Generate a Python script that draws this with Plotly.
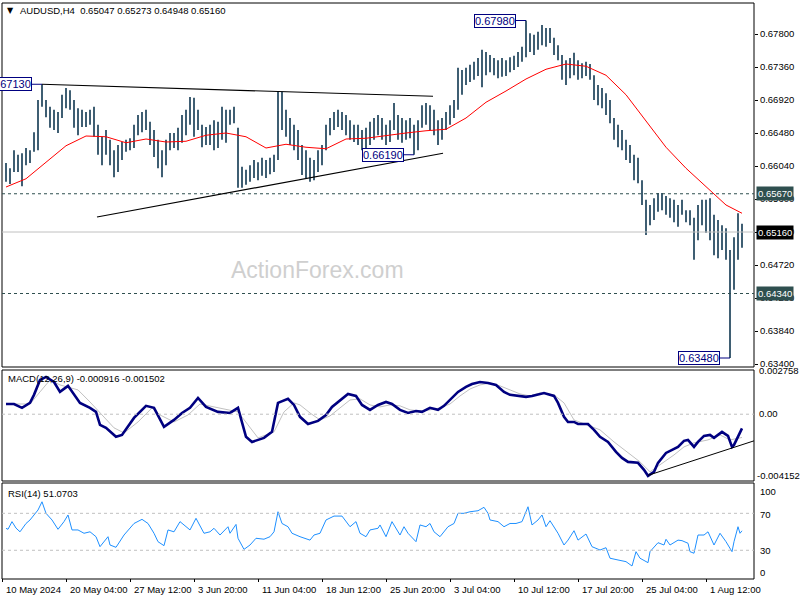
import plotly.graph_objects as go

SYMBOL = "AUDUSD,H4"
LAST_OHLC = ["0.65047", "0.65273", "0.64948", "0.65160"]
MACD_LABEL = "MACD(12,26,9) -0.000916 -0.001502"
RSI_LABEL = "RSI(14) 51.0703"
WATERMARK = "ActionForex.com"

# H4 bars (every second bar drawn): highs / lows in pips (x 1e-4)
bar_high = [6608, 6601, 6625, 6619, 6621, 6628, 6625, 6649, 6692, 6713,
            6692, 6683, 6679, 6676, 6699, 6708, 6705, 6692, 6681, 6679,
            6676, 6679, 6683, 6659, 6643, 6652, 6639, 6625, 6632, 6636,
            6639, 6641, 6659, 6672, 6676, 6679, 6663, 6652, 6639, 6625,
            6639, 6648, 6648, 6655, 6672, 6679, 6696, 6695, 6679, 6659,
            6656, 6659, 6665, 6663, 6683, 6679, 6679, 6683, 6655, 6603,
            6599, 6605, 6612, 6609, 6615, 6612, 6615, 6619, 6703, 6703,
            6679, 6668, 6659, 6652, 6632, 6625, 6615, 6612, 6625, 6632,
            6659, 6668, 6676, 6679, 6676, 6672, 6665, 6659, 6659, 6652,
            6655, 6663, 6668, 6672, 6668, 6659, 6665, 6688, 6672, 6668,
            6665, 6668, 6659, 6665, 6685, 6688, 6685, 6679, 6665, 6668,
            6676, 6685, 6692, 6735, 6732, 6735, 6739, 6743, 6748, 6759,
            6756, 6752, 6748, 6745, 6748, 6745, 6749, 6751, 6756, 6763,
            6798, 6781, 6779, 6783, 6792, 6788, 6788, 6775, 6765, 6752,
            6745, 6748, 6755, 6745, 6741, 6743, 6740, 6725, 6712, 6708,
            6701, 6692, 6668, 6659, 6652, 6639, 6632, 6619, 6615, 6585,
            6559, 6552, 6561, 6568, 6568, 6564, 6561, 6559, 6552, 6559,
            6545, 6545, 6535, 6552, 6559, 6559, 6561, 6539, 6532, 6525,
            6521, 6492, 6509, 6541, 6527]
bar_low = [6583, 6580, 6596, 6596, 6577, 6605, 6608, 6623, 6625, 6683,
           6669, 6655, 6652, 6648, 6668, 6681, 6679, 6655, 6645, 6656,
           6656, 6659, 6643, 6619, 6605, 6619, 6605, 6589, 6596, 6612,
           6623, 6625, 6628, 6645, 6649, 6652, 6632, 6616, 6601, 6589,
           6605, 6625, 6628, 6625, 6635, 6645, 6659, 6643, 6652, 6629,
           6632, 6632, 6625, 6628, 6639, 6635, 6659, 6661, 6575, 6575,
           6579, 6583, 6588, 6585, 6591, 6588, 6593, 6596, 6612, 6652,
           6643, 6632, 6625, 6612, 6592, 6588, 6583, 6585, 6596, 6605,
           6625, 6645, 6652, 6656, 6652, 6645, 6639, 6636, 6632, 6625,
           6623, 6632, 6639, 6645, 6639, 6632, 6636, 6652, 6639, 6635,
           6639, 6641, 6619, 6625, 6655, 6659, 6652, 6645, 6632, 6639,
           6652, 6659, 6668, 6679, 6699, 6712, 6716, 6719, 6724, 6709,
           6725, 6729, 6725, 6721, 6723, 6724, 6729, 6732, 6736, 6743,
           6749, 6756, 6752, 6759, 6765, 6763, 6768, 6752, 6745, 6719,
           6712, 6721, 6725, 6719, 6721, 6724, 6719, 6692, 6685, 6681,
           6672, 6661, 6639, 6629, 6625, 6612, 6608, 6585, 6581, 6552,
           6512, 6525, 6532, 6543, 6545, 6539, 6535, 6529, 6523, 6539,
           6529, 6525, 6479, 6505, 6525, 6515, 6505, 6485, 6481, 6492,
           6479, 6348, 6439, 6479, 6495]

# moving average (time in H4 bars, value in pips)
ma_t = [0, 10, 20, 30, 40, 50, 60, 70, 80, 90, 100, 110, 120, 130, 140, 150, 160, 170, 180,
        190, 200, 210, 220, 230, 240, 250, 260, 270, 280, 290, 300, 310, 320, 330, 340, 350, 360, 368]
ma_val = [6576, 6587, 6609, 6631, 6644, 6643, 6635, 6640, 6636, 6637, 6645, 6648, 6643, 6628,
          6633, 6629, 6627, 6640, 6641, 6645, 6648, 6651, 6653, 6668, 6689, 6704, 6720, 6733,
          6740, 6737, 6725, 6699, 6664, 6629, 6601, 6576, 6552, 6541]

# MACD main / signal (x 1e-4)
macd_t = [0, 4, 8, 12, 14, 17, 20, 24, 27, 31, 37, 42, 45, 47, 50, 55, 58, 64, 70, 74, 79, 84,
          88, 92, 96, 100, 106, 112, 116, 120, 123, 129, 133, 136, 141, 144, 147, 151, 156, 160,
          163, 167, 171, 175, 178, 182, 186, 190, 193, 197, 201, 205, 208, 212, 216, 219, 222,
          226, 230, 233, 237, 241, 245, 249, 252, 256, 260, 263, 267, 269, 274, 276, 279, 281,
          284, 286, 291, 294, 297, 301, 305, 308, 311, 316, 319, 321, 324, 326, 330, 333, 336,
          339, 341, 344, 346, 349, 352, 354, 358, 361, 363, 364, 366, 368]
macd_val = [6.6, 6.6, 4.1, 7.3, 12.5, 22.1, 24.1, 20.8, 14.4, 18.3, 7.3, 4.1, 1.5, -6.9, -8.8,
            -14.6, -13.4, -2.4, 5.4, 4.1, -8.2, -3.7, 0.8, 4.1, 10.5, 4.7, 1.5, 0.8, 4.1, -14.6,
            -17.9, -15.3, -11.4, 7.3, 9.9, 6.0, -1.7, -6.3, -4.3, -0.5, 4.7, 9.2, 13.1, 11.8, 6.0,
            2.8, 6.0, 7.9, 6.6, 2.8, 0.8, 2.1, 1.5, 4.1, 2.8, 5.4, 9.2, 14.4, 17.6, 19.5, 20.8,
            20.2, 18.9, 14.4, 12.5, 11.8, 11.2, 11.8, 13.1, 13.7, 11.8, 7.3, -1.7, -5.0, -5.0,
            -6.3, -6.3, -10.1, -14.6, -17.9, -24.3, -28.2, -30.8, -31.4, -35.9, -39.8, -37.2,
            -31.4, -25.0, -23.0, -21.1, -17.2, -16.6, -21.1, -17.9, -14.0, -13.4, -15.3, -11.4,
            -14.0, -21.1, -19.8, -14.6, -9.16]
sig_t = [0, 12, 17, 22, 27, 36, 42, 49, 54, 59, 66, 73, 77, 84, 91, 97, 106, 116, 121, 126, 134,
         139, 144, 147, 152, 157, 162, 167, 172, 177, 182, 187, 192, 197, 202, 207, 212, 217,
         222, 227, 232, 237, 242, 247, 252, 257, 262, 267, 274, 279, 284, 291, 297, 304, 311,
         317, 322, 327, 334, 339, 344, 351, 357, 362, 368]
sig_val = [6.6, 6.6, 14.4, 22.1, 18.9, 15.7, 7.9, -1.7, -8.8, -12.1, -5.0, 4.1, -0.5, -5.0, -0.5,
           6.6, 4.1, 1.5, -6.9, -15.3, -11.4, 1.5, 7.3, 6.0, 0.8, -3.7, -1.1, 4.1, 9.2, 9.9, 6.0,
           4.7, 6.0, 5.4, 2.8, 2.1, 2.8, 4.1, 6.6, 11.8, 16.3, 18.9, 20.2, 18.3, 15.7, 13.1, 11.8,
           13.7, 12.5, 7.3, -3.7, -6.9, -10.1, -17.9, -25.0, -30.8, -37.2, -32.7, -26.3, -21.1,
           -18.5, -16.6, -13.4, -16.6, -15.02]

rsi_t = [0, 1, 3, 5, 7, 10, 12, 16, 18, 20, 23, 26, 29, 31, 33, 36, 39, 42, 45, 47, 51, 52, 55,
         59, 64, 68, 71, 74, 76, 79, 81, 84, 87, 90, 92, 95, 99, 102, 104, 107, 111, 112, 115,
         116, 119, 122, 125, 129, 132, 134, 136, 138, 141, 143, 147, 152, 154, 157, 160, 164,
         168, 172, 175, 177, 180, 182, 186, 187, 190, 193, 196, 197, 199, 201, 205, 207, 210,
         212, 214, 217, 221, 224, 226, 229, 232, 236, 239, 241, 242, 246, 249, 252, 255, 258,
         261, 263, 266, 268, 270, 272, 276, 279, 281, 284, 286, 290, 293, 297, 300, 302, 306,
         310, 313, 315, 317, 321, 322, 326, 329, 330, 332, 336, 338, 341, 342, 344, 346, 349,
         351, 354, 357, 360, 363, 364, 366, 367, 368]
rsi_val = [53.8, 52.7, 61, 54, 50, 59, 62.8, 73.6, 82.5, 70, 62.8, 52.7, 61, 68.2, 52, 52, 48.4,
           50, 44.7, 33.9, 44.7, 35.7, 33.2, 46.5, 59, 63.5, 59, 48.4, 39.3, 35, 52, 50, 61,
           55.5, 52, 64.6, 48.4, 50, 53.8, 46.5, 55.5, 48.4, 58, 43, 31, 35.7, 43, 42, 44.7, 50,
           71.7, 59, 55.5, 48.4, 44.7, 41, 46.5, 48.4, 62.8, 67, 67, 55.5, 61, 48.4, 44.7, 52,
           53.8, 57.4, 44.7, 61, 49, 46.5, 55.5, 48.4, 39.3, 57.4, 55.5, 59, 50, 44.7, 55.5, 59,
           70, 70, 71.7, 72.8, 76.5, 70, 62.8, 61, 55.5, 59, 59, 61, 77.1, 57.4, 62.8, 68.2,
           55.5, 62, 48.4, 35.7, 41, 51.2, 41, 47.6, 33.9, 30.3, 32.8, 21.4, 19.5, 17.7, 13,
           28.5, 21.4, 16.6, 28.5, 38.2, 35.7, 41.9, 35.7, 41, 40.4, 37.6, 28.5, 26.8, 46.5,
           46.5, 50, 35.7, 48.4, 39.3, 28.5, 39.3, 55.5, 48.4, 51.07]

price_ticks = ["0.63400", "0.63840", "0.64280", "0.64720", "0.65160", "0.65600",
               "0.66040", "0.66480", "0.66920", "0.67360", "0.67800"]
time_labels = ["10 May 2024", "20 May 04:00", "27 May 12:00", "3 Jun 20:00", "11 Jun 04:00",
               "18 Jun 12:00", "25 Jun 20:00", "3 Jul 04:00", "10 Jul 12:00", "17 Jul 20:00",
               "25 Jul 04:00", "1 Aug 12:00"]
level_lines = [0.6567, 0.6434]
last_price = 0.6516
mark_bar = [9, 102, 130, 181]
mark_price = [0.6713, 0.6619, 0.6798, 0.6348]
upper_tl = [(18, 0.6713), (213.5, 0.6697)]
lower_tl = [(45.5, 0.6536), (218.5, 0.6621)]
macd_tl = [(321, -0.00395), (374, -0.00172)]
macd_ticks = ["0.002758", "0.00", "-0.004152"]
rsi_ticks = ["100", "70", "30", "0"]

W, H = 800, 600
FONT = "Liberation Sans"
BAR_COL = "#0f3650"


def px(x):
    return x / W


def py(y):
    return 1 - y / H


X_DOM = [px(2), px(754)]
X_RANGE = [-2, 374]

fig = go.Figure()

bx, by = [], []
for k, (hi, lo) in enumerate(zip(bar_high, bar_low)):
    bx += [2 * k, 2 * k, None]
    by += [lo / 1e4, hi / 1e4, None]
fig.add_trace(go.Scatter(x=bx, y=by, mode="lines", line=dict(color=BAR_COL, width=1.6),
                         xaxis="x", yaxis="y", hoverinfo="skip"))
fig.add_trace(go.Scatter(x=ma_t, y=[v / 1e4 for v in ma_val], mode="lines",
                         line=dict(color="#ff0000", width=1), xaxis="x", yaxis="y"))
fig.add_trace(go.Scatter(x=sig_t, y=[v / 1e4 for v in sig_val], mode="lines",
                         line=dict(color="#c0c0c0", width=1), xaxis="x2", yaxis="y2"))
fig.add_trace(go.Scatter(x=macd_t, y=[v / 1e4 for v in macd_val], mode="lines",
                         line=dict(color="#000080", width=2.6), xaxis="x2", yaxis="y2"))
fig.add_trace(go.Scatter(x=rsi_t, y=rsi_val, mode="lines",
                         line=dict(color="#1e90ff", width=1), xaxis="x3", yaxis="y3"))

tick_h = [-1.65 + 32 * k for k in range(len(time_labels))]
axis_common = dict(domain=X_DOM, range=X_RANGE, showgrid=False, zeroline=False,
                   showline=False, showticklabels=False, automargin=False)
fig.update_layout(
    width=W, height=H, template="none", showlegend=False,
    margin=dict(l=0, r=0, t=0, b=0, pad=0),
    paper_bgcolor="white", plot_bgcolor="white",
    xaxis=dict(anchor="y", ticks="", **axis_common),
    xaxis2=dict(anchor="y2", ticks="", **axis_common),
    xaxis3=dict(anchor="y3", ticks="outside", ticklen=3, tickcolor="black",
                tickvals=tick_h, **axis_common),
    yaxis=dict(domain=[py(367), py(3)], range=[0.6336, 0.682133], side="right", anchor="x",
               tickvals=[float(t) for t in price_ticks], ticktext=price_ticks,
               ticks="outside", ticklen=3, tickcolor="black", showgrid=False,
               zeroline=False, automargin=False,
               tickfont=dict(family=FONT, size=9.5, color="black")),
    yaxis2=dict(domain=[py(478.5), py(371.5)], range=[-0.004152, 0.002758], anchor="x2",
                showticklabels=False, showgrid=False, zeroline=False, automargin=False),
    yaxis3=dict(domain=[py(578), py(485.6)], range=[0, 100], anchor="x3",
                showticklabels=False, showgrid=False, zeroline=False, automargin=False),
)

shapes = []
# panel frames
for y0, y1 in [(3, 367), (370, 481), (483, 579)]:
    shapes.append(dict(type="rect", xref="paper", yref="paper", x0=px(2), x1=px(754),
                       y0=py(y1), y1=py(y0), line=dict(color="black", width=1)))
# levels
for lv in level_lines:
    shapes.append(dict(type="line", xref="paper", yref="y", x0=X_DOM[0], x1=X_DOM[1],
                       y0=lv, y1=lv, line=dict(color="#2f4f4f", width=1, dash="3px,3px")))
shapes.append(dict(type="line", xref="paper", yref="y", x0=X_DOM[0], x1=X_DOM[1],
                   y0=last_price, y1=last_price, line=dict(color="#c0c0c0", width=1)))
# trend lines
for (a, b) in [upper_tl, lower_tl]:
    shapes.append(dict(type="line", xref="x", yref="y", x0=a[0], y0=a[1], x1=b[0], y1=b[1],
                       line=dict(color="black", width=1.2)))
shapes.append(dict(type="line", xref="x2", yref="y2", x0=macd_tl[0][0], y0=macd_tl[0][1],
                   x1=macd_tl[1][0], y1=macd_tl[1][1], line=dict(color="black", width=1)))
shapes.append(dict(type="line", xref="paper", yref="y2", x0=X_DOM[0], x1=X_DOM[1], y0=0, y1=0,
                   line=dict(color="#c0c0c0", width=1, dash="3px,3px")))
for lv in (70, 30):
    shapes.append(dict(type="line", xref="paper", yref="y3", x0=X_DOM[0], x1=X_DOM[1],
                       y0=lv, y1=lv, line=dict(color="#c0c0c0", width=1, dash="3px,3px")))
# price mark connectors
for b, p in zip(mark_bar, mark_price):
    shapes.append(dict(type="line", xref="x", yref="y", x0=2 * b - 5, x1=2 * b, y0=p, y1=p,
                       line=dict(color="#000080", width=1)))

ann = []
small = dict(family=FONT, size=9.5, color="black")
ann.append(dict(xref="paper", yref="paper", x=px(5), y=py(10), text="▼", showarrow=False,
                xanchor="left", yanchor="middle", font=dict(family="DejaVu Sans", size=8, color="black")))
ann.append(dict(xref="paper", yref="paper", x=px(18), y=py(11),
                text=SYMBOL + "\u00a0\u00a0" + " ".join(LAST_OHLC), showarrow=False,
                xanchor="left", yanchor="middle", font=small))
ann.append(dict(xref="paper", yref="paper", x=px(6), y=py(378), text=MACD_LABEL, showarrow=False,
                xanchor="left", yanchor="middle", font=small))
ann.append(dict(xref="paper", yref="paper", x=px(6), y=py(493), text=RSI_LABEL, showarrow=False,
                xanchor="left", yanchor="middle", font=small))
ann.append(dict(xref="paper", yref="paper", x=px(317), y=py(270), text=WATERMARK, showarrow=False,
                xanchor="center", yanchor="middle",
                font=dict(family=FONT, size=23, color="#cfcfcf")))
for lab, yy, xx in zip(macd_ticks, [370, 414, 475], [757, 757, 755]):
    ann.append(dict(xref="paper", yref="paper", x=px(xx), y=py(yy), text=lab, showarrow=False,
                    xanchor="left", yanchor="middle", font=small))
for lab, yy in zip(rsi_ticks, [491, 514, 550, 572]):
    ann.append(dict(xref="paper", yref="paper", x=px(758), y=py(yy), text=lab, showarrow=False,
                    xanchor="left", yanchor="middle", font=small))
for lab, t in zip(time_labels, tick_h):
    ann.append(dict(xref="x3", yref="paper", x=t, y=py(589), text=lab, showarrow=False,
                    xanchor="left", yanchor="middle", xshift=1, font=small))
# right-axis level boxes
for lv, bg in [(level_lines[0], "#2f4f4f"), (level_lines[1], "#2f4f4f"), (last_price, "black")]:
    ann.append(dict(xref="paper", yref="y", x=px(756), y=lv, text=f"{lv:.5f}", showarrow=False,
                    xanchor="left", yanchor="middle", bgcolor=bg, borderpad=1,
                    font=dict(family=FONT, size=9.5, color="white")))
# price marks
for b, p in zip(mark_bar, mark_price):
    ann.append(dict(xref="x", yref="y", x=2 * b - 5, y=p, text=f"{p:.5f}", showarrow=False,
                    xanchor="right", yanchor="middle", bgcolor="white", bordercolor="#000080",
                    borderwidth=1, borderpad=0, font=dict(family=FONT, size=11, color="#000080")))

fig.update_layout(shapes=shapes, annotations=ann)
fig.write_html("out.html", config={"displayModeBar": False},
               post_script="document.body.style.margin='0px';document.body.style.padding='0px';")
